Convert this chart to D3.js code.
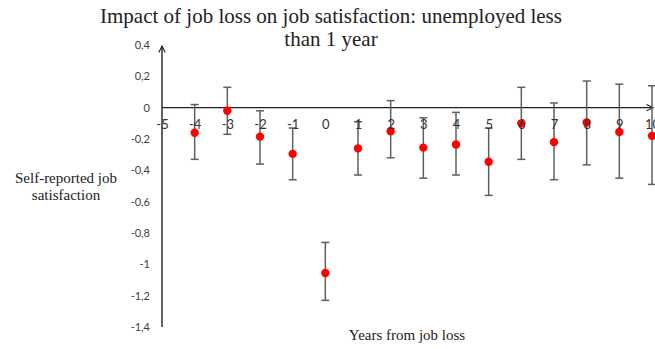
<!DOCTYPE html>
<html>
<head>
<meta charset="utf-8">
<script src="https://cdn.jsdelivr.net/npm/d3@7"></script>
<style>
  body { margin: 0; background: #fff; }
  svg { display: block; }
</style>
</head>
<body>
<div id="chart"></div>
<script>
// years relative to job loss, point estimates and 95% bounds
const years = [-4, -3, -2, -1, 0, 1, 2, 3, 4, 5, 6, 7, 8, 9, 10];
const estimates = [-0.16, -0.02, -0.185, -0.295, -1.055, -0.26, -0.15, -0.255, -0.235, -0.345, -0.10, -0.22, -0.095, -0.155, -0.18];
const upper = [0.02, 0.13, -0.02, -0.13, -0.86, -0.09, 0.045, -0.065, -0.03, -0.13, 0.13, 0.03, 0.17, 0.15, 0.14];
const lower = [-0.33, -0.17, -0.36, -0.46, -1.23, -0.43, -0.32, -0.45, -0.43, -0.56, -0.33, -0.46, -0.365, -0.45, -0.49];
const xTicks = d3.range(-5, 11);
const yTicks = [0.4, 0.2, 0, -0.2, -0.4, -0.6, -0.8, -1, -1.2, -1.4];

const width = 655, height = 349;
const svg = d3.select("#chart").append("svg")
  .attr("width", width)
  .attr("height", height);

const x = d3.scaleLinear().domain([-5, 10]).range([162, 652]);
const y = d3.scaleLinear().domain([-1.4, 0.4]).range([327, 45]);

// comma decimals, plain hyphen
const fmt = d => d3.format(".1~f")(d).replace("−", "-").replace(".", ",");

// arrow markers
const defs = svg.append("defs");
defs.append("marker")
  .attr("id", "arrow")
  .attr("viewBox", "0 0 10 10")
  .attr("refX", 9).attr("refY", 5)
  .attr("markerWidth", 8).attr("markerHeight", 8)
  .attr("markerUnits", "userSpaceOnUse")
  .attr("orient", "auto")
  .append("path")
  .attr("d", "M1,1 L9,5 L1,9")
  .attr("fill", "none")
  .attr("stroke", "#222")
  .attr("stroke-width", 1.4);

// title
svg.append("text")
  .attr("text-anchor", "middle")
  .style("font-family", "'Liberation Serif', 'Times New Roman', serif")
  .style("font-size", "21px")
  .style("fill", "#222")
  .selectAll("tspan")
  .data(["Impact of job loss on job satisfaction: unemployed less", "than 1 year"])
  .join("tspan")
  .attr("x", 331)
  .attr("y", (d, i) => 23 + i * 23)
  .text(d => d);

// y axis
svg.append("g")
  .attr("transform", "translate(" + x(-5) + ",0)")
  .call(d3.axisLeft(y).tickValues(yTicks).tickFormat(fmt).tickSize(0).tickPadding(12))
  .call(g => g.select(".domain").remove())
  .selectAll("text")
  .style("font-family", "Lato, 'Open Sans', sans-serif")
  .style("font-size", "11px")
  .style("fill", "#404040");

svg.append("line")
  .attr("x1", x(-5)).attr("x2", x(-5))
  .attr("y1", y(-1.4)).attr("y2", y(0.4) + 1)
  .attr("stroke", "#222")
  .attr("stroke-width", 1.4)
  .attr("marker-end", "url(#arrow)");

// x axis along zero
svg.append("line")
  .attr("x1", x(-5)).attr("x2", x(10) + 1)
  .attr("y1", y(0)).attr("y2", y(0))
  .attr("stroke", "#222")
  .attr("stroke-width", 1.4)
  .attr("marker-end", "url(#arrow)");

// error bars
const bars = svg.append("g");
years.forEach((yr, i) => {
  const cx = x(yr);
  bars.append("line")
    .attr("x1", cx).attr("x2", cx)
    .attr("y1", y(upper[i])).attr("y2", y(lower[i]))
    .attr("stroke", "#5f5f5f").attr("stroke-width", 1.5);
  [upper[i], lower[i]].forEach(v => {
    bars.append("line")
      .attr("x1", cx - 4).attr("x2", cx + 4)
      .attr("y1", y(v)).attr("y2", y(v))
      .attr("stroke", "#5f5f5f").attr("stroke-width", 1.5);
  });
});

// points
svg.append("g")
  .selectAll("circle")
  .data(years)
  .join("circle")
  .attr("cx", d => x(d))
  .attr("cy", (d, i) => y(estimates[i]))
  .attr("r", 4.2)
  .attr("fill", "#ff0000");

// x tick labels, drawn over the bars
svg.append("g")
  .attr("transform", "translate(0," + y(0) + ")")
  .call(d3.axisBottom(x).tickValues(xTicks).tickFormat(d => String(d)).tickSize(0).tickPadding(12))
  .call(g => g.select(".domain").remove())
  .selectAll("text")
  .style("font-family", "Lato, 'Open Sans', sans-serif")
  .style("font-size", "13px")
  .style("fill", "#333");

// axis titles
svg.append("text")
  .attr("x", 407).attr("y", 340)
  .attr("text-anchor", "middle")
  .style("font-family", "'Liberation Serif', 'Times New Roman', serif")
  .style("font-size", "15px")
  .style("fill", "#222")
  .text("Years  from job loss");

svg.append("text")
  .attr("text-anchor", "middle")
  .style("font-family", "'Liberation Serif', 'Times New Roman', serif")
  .style("font-size", "15px")
  .style("fill", "#222")
  .selectAll("tspan")
  .data(["Self-reported job", "satisfaction"])
  .join("tspan")
  .attr("x", 66)
  .attr("y", (d, i) => 183 + i * 17)
  .text(d => d);
</script>
</body>
</html>
